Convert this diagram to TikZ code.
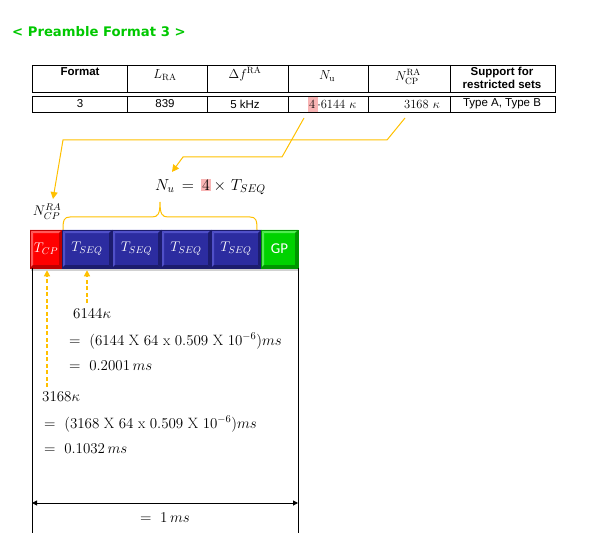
\documentclass[tikz,border=0pt]{standalone}
\usepackage{fix-cm}
\usepackage{amsmath}
\usepackage{fontspec}
\newfontfamily\arialf{Liberation Sans}
\newfontfamily\titlef{DejaVu Sans}
\newfontfamily\calf{Carlito}
\usetikzlibrary{arrows.meta}
\definecolor{gold}{RGB}{255,192,0}
\definecolor{titlegreen}{RGB}{0,200,0}
\definecolor{hlpink}{RGB}{248,180,180}
\definecolor{cpface}{RGB}{255,0,0}
\definecolor{cplight}{RGB}{255,90,90}
\definecolor{cpdark}{RGB}{190,0,0}
\definecolor{sqface}{RGB}{44,44,160}
\definecolor{sqlight}{RGB}{80,80,200}
\definecolor{sqdark}{RGB}{28,28,110}
\definecolor{gpface}{RGB}{0,210,0}
\definecolor{gplight}{RGB}{80,235,80}
\definecolor{gpdark}{RGB}{0,150,0}
\tikzset{
  tabline/.style={draw=black, line width=0.9bp},
  tabhead/.style={font=\arialf\bfseries\fontsize{11.5bp}{12.5bp}\selectfont, inner sep=0pt, align=center},
  tabtxt/.style={font=\arialf\fontsize{11.5bp}{12bp}\selectfont, inner sep=0pt},
  tabmath/.style={font=\fontsize{13bp}{15bp}\selectfont, inner sep=0pt},
  goldline/.style={draw=gold, line width=1bp},
  goldarrow/.style={goldline, -{Triangle[length=7bp,width=7bp]}},
  golddash/.style={draw=gold, line width=1.2bp, dash pattern=on 4bp off 2.5bp, -{Triangle[length=6bp,width=6bp]}},
  dimarrow/.style={draw=black, line width=1bp, {Triangle[length=5bp,width=5bp]}-{Triangle[length=5bp,width=5bp]}},
  calc/.style={font=\fontsize{15bp}{17bp}\selectfont, inner sep=0pt, anchor=west},
  bevel/.style n args={3}{fill=#1, draw=#3, line width=0.5bp, inner sep=0pt,
    text=white, font=\fontsize{14bp}{16bp}\selectfont,
    path picture={
      \fill[#2] (path picture bounding box.north west) -- (path picture bounding box.north east)
        -- ([xshift=-3bp,yshift=-3bp]path picture bounding box.north east)
        -- ([xshift=3bp,yshift=-3bp]path picture bounding box.north west) -- cycle;
      \fill[#2] (path picture bounding box.north west) -- ([xshift=3bp,yshift=-3bp]path picture bounding box.north west)
        -- ([xshift=3bp,yshift=3bp]path picture bounding box.south west)
        -- (path picture bounding box.south west) -- cycle;
      \fill[#3] (path picture bounding box.south west) -- (path picture bounding box.south east)
        -- ([xshift=-3bp,yshift=3bp]path picture bounding box.south east)
        -- ([xshift=3bp,yshift=3bp]path picture bounding box.south west) -- cycle;
      \fill[#3] (path picture bounding box.north east) -- (path picture bounding box.south east)
        -- ([xshift=-3bp,yshift=3bp]path picture bounding box.south east)
        -- ([xshift=-3bp,yshift=-3bp]path picture bounding box.north east) -- cycle;
    }},
}
\begin{document}
\begin{tikzpicture}[x=1bp,y=-1bp]
\useasboundingbox (0,0) rectangle (597,544);
% title
\node[anchor=west, inner sep=0pt, text=titlegreen, font=\titlef\bfseries\fontsize{13.2bp}{15bp}\selectfont] (title) at (12,32) {< Preamble Format 3 >};
% table
\draw[tabline] (32,65) rectangle (555,92);
\draw[tabline] (32,96) rectangle (555,112);
\foreach \x in {127,207,288,368,450} {
  \draw[tabline] (\x,65) -- (\x,92);
  \draw[tabline] (\x,96) -- (\x,112);
}
\node[tabhead] (hfmt) at (80,71.5) {Format};
\node[tabmath] (hlra) at (165,75) {$L_{\mathrm{RA}}$};
\node[tabmath] (hdf) at (245,74) {$\Delta f^{\mathrm{RA}}$};
\node[tabmath] (hnu) at (327,76) {$N_{\mathrm{u}}$};
\node[tabmath] (hncp) at (408,77) {$N_{\mathrm{CP}}^{\mathrm{RA}}$};
\node[tabhead] (hsup) at (502,78) {Support for\\restricted sets};
\node[tabtxt] (vfmt) at (80,104) {3};
\node[tabtxt] (vlra) at (165,104) {839};
\node[tabtxt] (vdf) at (245,104) {5 kHz};
\fill[hlpink] (308,97) rectangle (318,112);
\node[tabmath, anchor=west, font=\fontsize{12.5bp}{14bp}\selectfont] (vnu) at (309,104.5) {$4\,{\cdot}6144\ \kappa$};
\node[tabmath, font=\fontsize{12.5bp}{14bp}\selectfont] (vncp) at (422,104.5) {$3168\ \kappa$};
\node[tabtxt] (vsup) at (502,103.5) {Type A, Type B};
% labels
\node[anchor=west, inner sep=0pt, font=\fontsize{16bp}{18bp}\selectfont] (nulab) at (155,187)
  {$N_u\,=\,{\setlength{\fboxsep}{1bp}\colorbox{hlpink}{$4$}}\,{\times}\ T_{SEQ}$};
\node[inner sep=0pt, font=\fontsize{14bp}{16bp}\selectfont] (ncplab) at (47,212) {$N_{CP}^{RA}$};
% gold connectors
\coordinate (nuA) at (304,118);
\coordinate (nuB) at (282,157);
\coordinate (nuC) at (183,157);
\coordinate (nuT) at (172,172);
\draw[goldarrow] (nuA) -- (nuB) -- (nuC) -- (nuT);
\coordinate (cpA) at (405,118);
\coordinate (cpB) at (387,140);
\coordinate (cpC) at (63,140);
\coordinate (cpT) at (53,199);
\draw[goldarrow] (cpA) -- (cpB) -- (cpC) -- (cpT);
% brace
\draw[goldline] (63,230) .. controls (63,220) and (64,217) .. (70,217) -- (152,217)
  .. controls (158,217) and (160,214) .. (160,202)
  .. controls (160,214) and (162,217) .. (168,217) -- (250,217)
  .. controls (256,217) and (257,220) .. (257,230);
% shadow
\fill[black!18] (31,268) rectangle (299,271);
% boxes
\node[bevel={cpface}{cplight}{cpdark}, minimum width=32bp, minimum height=38bp] (tcp) at (46,249) {$T_{CP}$};
\node[bevel={sqface}{sqlight}{sqdark}, minimum width=50bp, minimum height=38bp] (s1) at (87,249) {$T_{SEQ}$};
\node[bevel={sqface}{sqlight}{sqdark}, minimum width=49bp, minimum height=38bp] (s2) at (136.5,249) {$T_{SEQ}$};
\node[bevel={sqface}{sqlight}{sqdark}, minimum width=50bp, minimum height=38bp] (s3) at (186,249) {$T_{SEQ}$};
\node[bevel={sqface}{sqlight}{sqdark}, minimum width=50bp, minimum height=38bp] (s4) at (236,249) {$T_{SEQ}$};
\node[bevel={gpface}{gplight}{gpdark}, minimum width=37bp, minimum height=38bp, font=\calf\fontsize{15bp}{17bp}\selectfont] (gp) at (279.5,249) {GP};
% frame lines
\coordinate (lt) at (32,268);
\coordinate (lb) at (32,533);
\coordinate (rt) at (298,268);
\coordinate (rb) at (298,533);
\draw[line width=1bp] (lt) -- (lb);
\draw[line width=1bp] (rt) -- (rb);
\coordinate (la) at (32,503);
\coordinate (ra) at (298,503);
\draw[dimarrow] (la) -- (ra);
\node[inner sep=0pt, font=\fontsize{15bp}{17bp}\selectfont] (onems) at (165,518) {$=\ 1\,ms$};
% calculations
\node[calc] (k6144) at (73,314) {$6144\kappa$};
\node[calc] (e6144) at (69,341) {$=\ (6144\ \mathrm{X}\ 64\ \mathrm{x}\ 0.509\ \mathrm{X}\ 10^{-6})ms$};
\node[calc] (r6144) at (69,366) {$=\ 0.2001\,ms$};
\node[calc] (k3168) at (42,397) {$3168\kappa$};
\node[calc] (e3168) at (44,424) {$=\ (3168\ \mathrm{X}\ 64\ \mathrm{x}\ 0.509\ \mathrm{X}\ 10^{-6})ms$};
\node[calc] (r3168) at (44,449) {$=\ 0.1032\,ms$};
% dashed arrows
\coordinate (d1) at (47,387);
\coordinate (d2) at (87,303);
\draw[golddash] (d1) -- ([yshift=-2bp]tcp.south -| d1);
\draw[golddash] (d2) -- ([yshift=-2bp]s1.south -| d2);
\end{tikzpicture}
\end{document}
